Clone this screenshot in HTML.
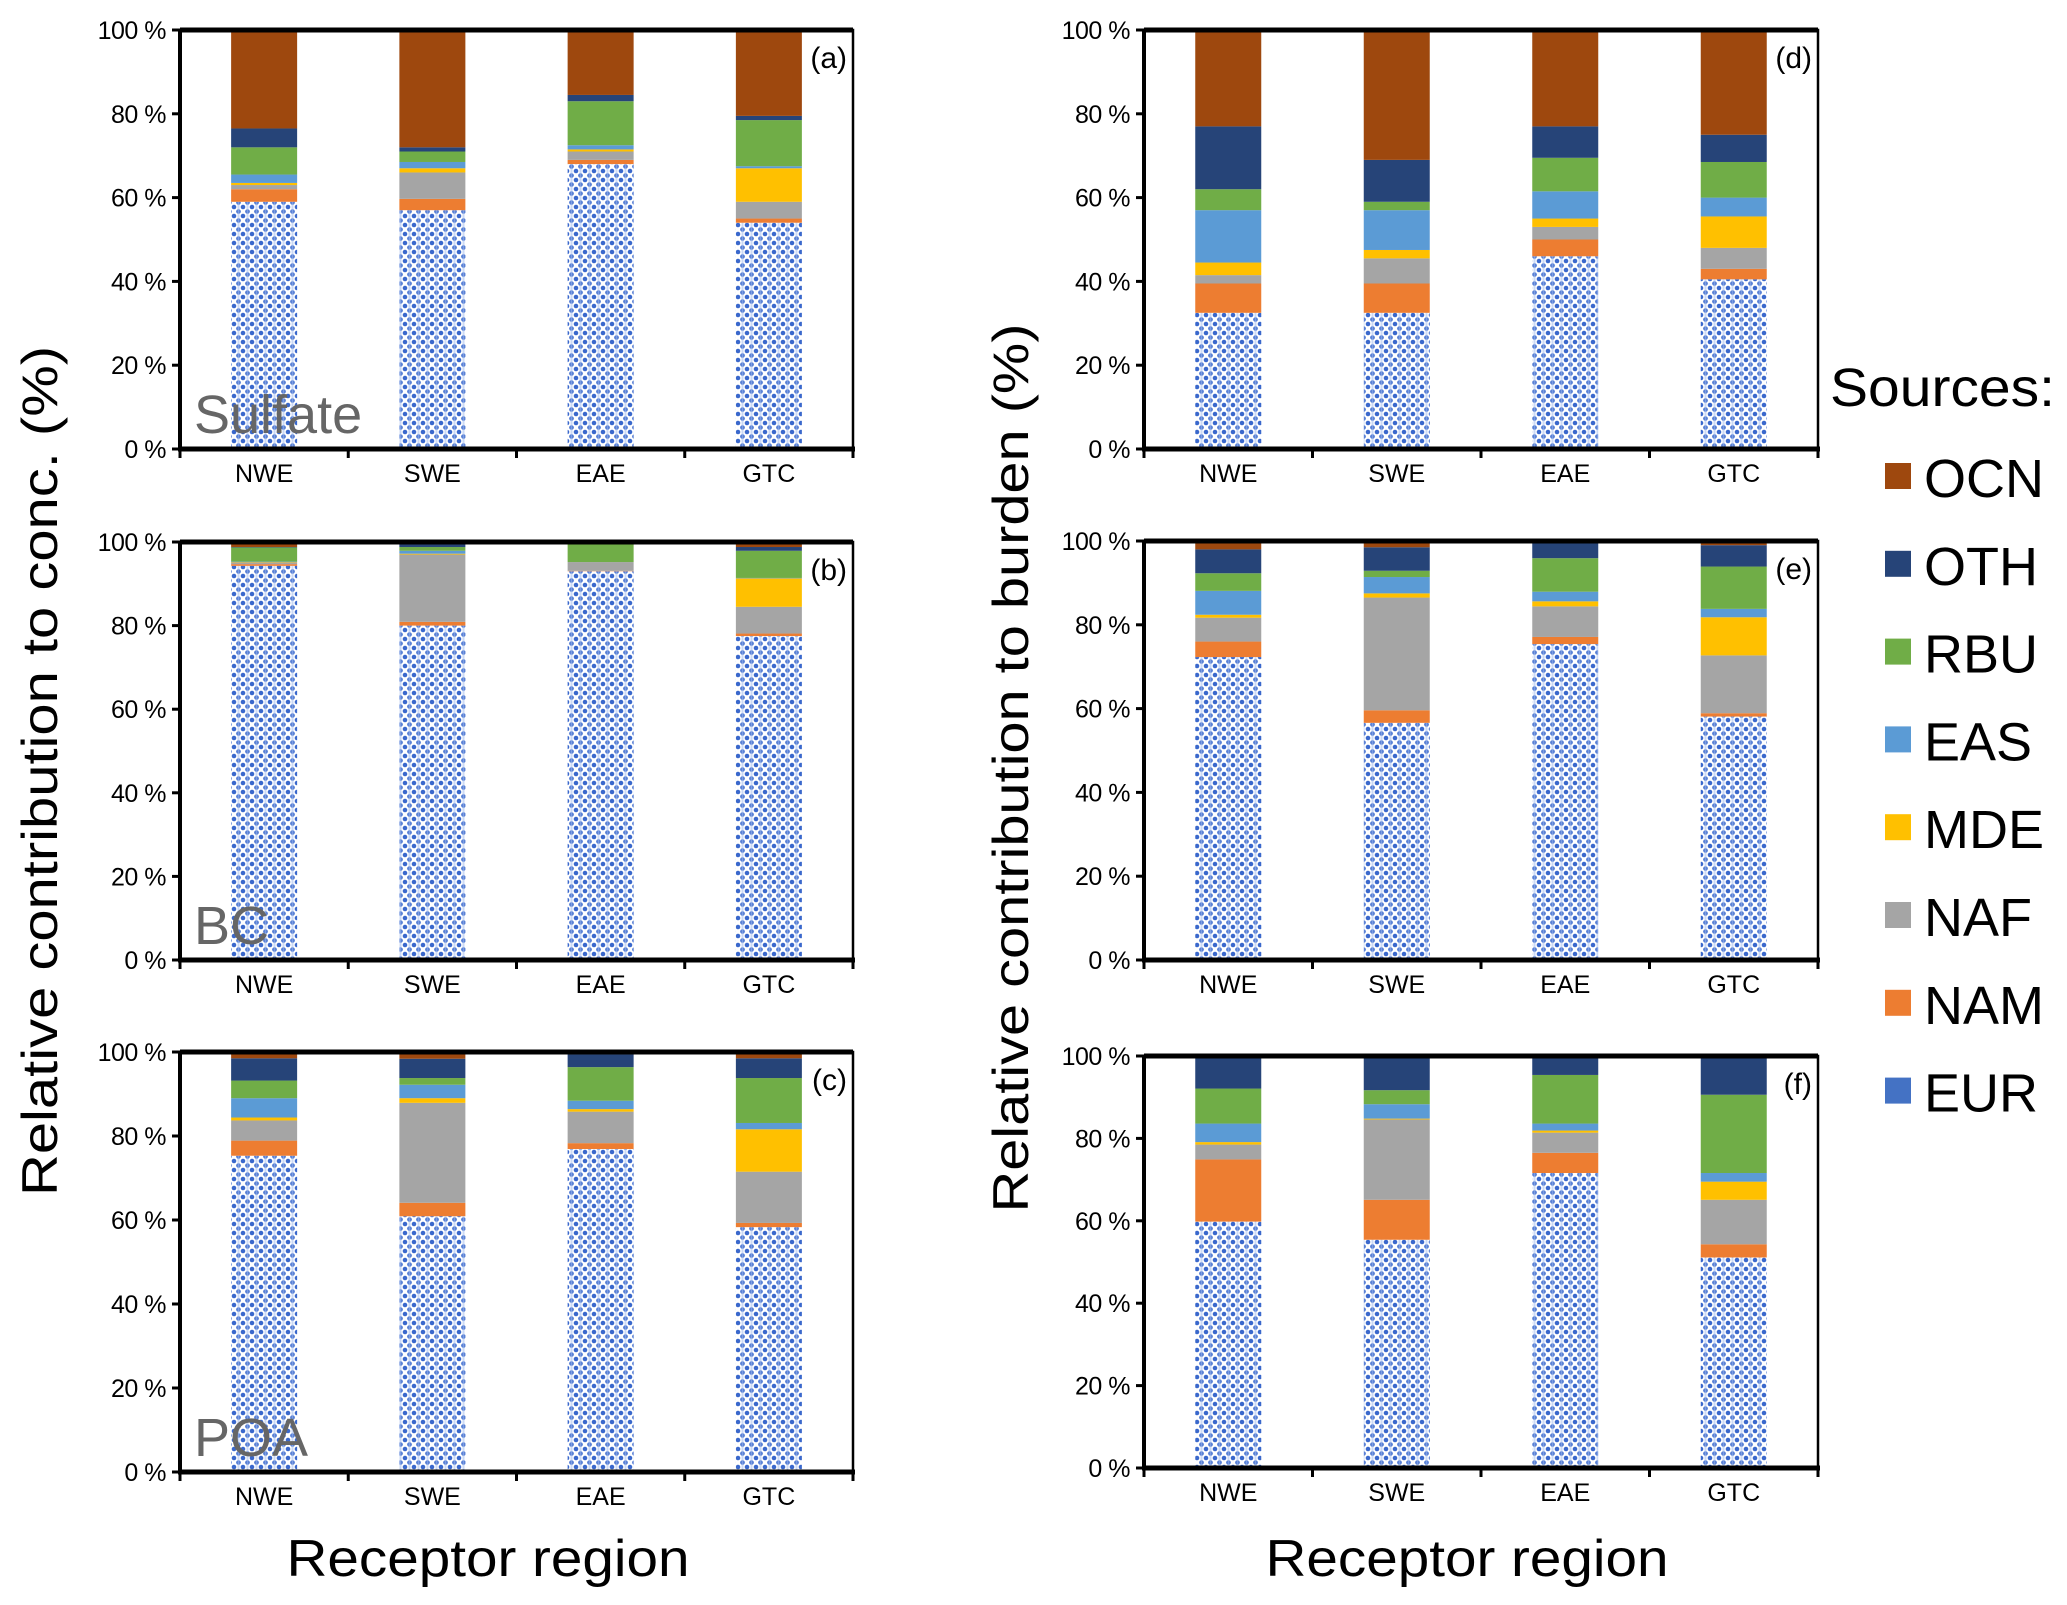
<!DOCTYPE html>
<html><head><meta charset="utf-8">
<style>
html,body{margin:0;padding:0;background:#fff;}
svg{display:block;font-family:"Liberation Sans",Arial,sans-serif;}
</style></head>
<body>
<svg id="fig" width="2067" height="1605" viewBox="0 0 2067 1605" xmlns="http://www.w3.org/2000/svg">
<defs>
<pattern id="eurpat" width="9" height="9" patternUnits="userSpaceOnUse">
<rect width="9" height="9" fill="#ffffff"/>
<circle cx="0" cy="0" r="2.3" fill="#3a68cc"/>
<circle cx="9" cy="0" r="2.3" fill="#3a68cc"/>
<circle cx="0" cy="9" r="2.3" fill="#3a68cc"/>
<circle cx="9" cy="9" r="2.3" fill="#3a68cc"/>
<circle cx="4.5" cy="4.5" r="2.3" fill="#3a68cc"/>
<rect x="3.5" y="0" width="2" height="9" fill="#a9c0ee" opacity="0.6"/>
</pattern>
</defs>
<g id="panels"></g>
<text x="40" y="771" font-size="50" text-anchor="middle" textLength="850" lengthAdjust="spacingAndGlyphs" transform="rotate(-90 40 771)" dy="17" fill="#000">Relative contribution to conc. (%)</text>
<text x="1011" y="768" font-size="50" text-anchor="middle" textLength="889" lengthAdjust="spacingAndGlyphs" transform="rotate(-90 1011 768)" dy="17" fill="#000">Relative contribution to burden (%)</text>
<text x="488" y="1576" font-size="52" text-anchor="middle" textLength="403" lengthAdjust="spacingAndGlyphs">Receptor region</text>
<text x="1467" y="1576" font-size="52" text-anchor="middle" textLength="403" lengthAdjust="spacingAndGlyphs">Receptor region</text>
<g id="legend">
<text x="1830" y="406" font-size="54" textLength="225" lengthAdjust="spacingAndGlyphs">Sources:</text>
</g>
</svg>
<script>
const categories = ["NWE", "SWE", "EAE", "GTC"];
const sources = ["EUR", "NAM", "NAF", "MDE", "EAS", "RBU", "OTH", "OCN"];
const colors = ["url(#eurpat)", "#ED7D31", "#A5A5A5", "#FFC000", "#5B9BD5", "#70AD47", "#264478", "#9E480E"];
const legendColors = ["#4472C4", "#ED7D31", "#A5A5A5", "#FFC000", "#5B9BD5", "#70AD47", "#264478", "#9E480E"];
const yTicks = [0, 20, 40, 60, 80, 100];
const yTickLabels = ["0 %", "20 %", "40 %", "60 %", "80 %", "100 %"];
// cumulative tops (%) per source (rows EUR..OCN), per category (NWE,SWE,EAE,GTC)
const topsA = [[59,57,68,54],[62,59.7,69,55],[63,66,71,59],[63.5,67,71.5,67],[65.5,68.5,72.5,67.5],[72,71,83,78.5],[76.5,72,84.5,79.5],[100,100,100,100]];
const topsB = [[94.3,80,93,77.5],[94.7,80.9,93.1,78.1],[95.1,97,95.2,84.5],[95.2,97.2,95.2,91.3],[95.3,97.9,95.2,91.4],[98.7,98.8,99.4,97.9],[98.8,99.4,99.4,98.8],[100,100,100,100]];
const topsC = [[75.3,60.9,76.9,58.3],[78.9,64.1,78.3,59.3],[83.7,87.9,85.8,71.5],[84.4,89,86.4,81.6],[89,92.2,88.4,83.1],[93.2,93.8,96.4,93.8],[98.5,98.4,99.4,98.5],[100,100,100,100]];
const topsD = [[32.5,32.5,46,40.5],[39.5,39.5,50,43],[41.5,45.5,53,48],[44.5,47.5,55,55.5],[57,57,61.5,60],[62,59,69.5,68.5],[77,69,77,75],[100,100,100,100]];
const topsE = [[72.3,56.6,75.4,58.1],[76,59.6,77.1,58.9],[81.7,86.5,84.4,72.7],[82.4,87.5,85.6,81.8],[88.1,91.4,87.9,83.8],[92.3,92.9,95.9,93.9],[98,98.5,99.6,99],[100,100,100,100]];
const topsF = [[59.8,55.4,71.6,51.1],[74.9,65.1,76.5,54.3],[78.5,84.6,81.4,65.1],[79.1,84.8,81.9,69.5],[83.6,88.3,83.6,71.6],[92.1,91.7,95.4,90.6],[99.7,99.7,99.7,99.7],[100,100,100,100]];

const NS = "http://www.w3.org/2000/svg";
function mk(tag, attrs, parent) {
  const el = document.createElementNS(NS, tag);
  for (const k in attrs) el.setAttribute(k, attrs[k]);
  parent.appendChild(el);
  return el;
}
const panelsG = document.getElementById("panels");
const panelDefs = [
  {id:"a", tops:topsA, x0:180, x1:853, y0:30, y1:449, name:"Sulfate", ny:433},
  {id:"b", tops:topsB, x0:180, x1:853, y0:542, y1:960, name:"BC", ny:944},
  {id:"c", tops:topsC, x0:180, x1:853, y0:1052, y1:1472, name:"POA", ny:1456},
  {id:"d", tops:topsD, x0:1144, x1:1818, y0:30, y1:449, name:"", ny:0},
  {id:"e", tops:topsE, x0:1144, x1:1818, y0:541, y1:960, name:"", ny:0},
  {id:"f", tops:topsF, x0:1144, x1:1818, y0:1056, y1:1468, name:"", ny:0}
];
panelDefs.forEach(p => {
  const g = mk("g", {}, panelsG);
  
  
  const W = p.x1 - p.x0;
  const bw = 66;
  const yScale = v => p.y1 - (v / 100) * (p.y1 - p.y0);
  const xCenter = i => p.x0 + (i + 0.5) * W / categories.length;
  categories.forEach((cat, i) => {
    let prev = 0;
    sources.forEach((s, k) => {
      const top = p.tops[k][i];
      const ya = yScale(top), yb = yScale(prev);
      if (yb - ya > 0.01) {
        const r = mk("rect", {x: xCenter(i) - bw/2, y: ya, width: bw, height: yb - ya, fill: colors[k]}, g);
        
        
      }
      prev = top;
    });
  });
  if (p.name) {
    const t = mk("text", {x: p.x0 + 14, y: p.ny, "font-size": 54, fill: "#666666"}, g);
    t.textContent = p.name;
    
    
  }
  const fr = mk("rect", {x: p.x0, y: p.y0, width: W, height: p.y1 - p.y0, fill: "none", stroke: "#000", "stroke-width": 2.5}, g);
  
  
  const topL = mk("line", {x1: p.x0, x2: p.x1, y1: p.y0, y2: p.y0, stroke: "#000", "stroke-width": 5}, g);
  
  
  const xa = mk("line", {x1: p.x0 - 2, x2: p.x1 + 2, y1: p.y1, y2: p.y1, stroke: "#000", "stroke-width": 5}, g);
  
  
  const ya = mk("line", {x1: p.x0, x2: p.x0, y1: p.y0, y2: p.y1, stroke: "#000", "stroke-width": 4}, g);
  
  
  yTicks.forEach((v, j) => {
    const yy = yScale(v);
    const tl = mk("line", {x1: p.x0 - 8, x2: p.x0, y1: yy, y2: yy, stroke: "#000", "stroke-width": 3}, g);
    
    
    const tt = mk("text", {x: p.x0 - 14, y: yy + 9, "font-size": 25, "text-anchor": "end", "letter-spacing": "-0.5"}, g);
    tt.textContent = yTickLabels[j];
    
    
  });
  for (let i = 0; i <= categories.length; i++) {
    const xx = p.x0 + i * W / categories.length;
    const tl = mk("line", {x1: xx, x2: xx, y1: p.y1, y2: p.y1 + 9, stroke: "#000", "stroke-width": 3}, g);
    
    
  }
  categories.forEach((cat, i) => {
    const t = mk("text", {x: xCenter(i), y: p.y1 + 33, "font-size": 25, "text-anchor": "middle"}, g);
    t.textContent = cat;
    
    
  });
  const pl = mk("text", {x: p.x1 - 6, y: p.y0 + 38, "font-size": 30, "text-anchor": "end"}, g);
  pl.textContent = "(" + p.id + ")";
  
  
});
const lg = document.getElementById("legend");
for (let k = sources.length - 1, n = 0; k >= 0; k--, n++) {
  const yb = 497 + n * 87.8;
  const sw = mk("rect", {x: 1885, y: yb - 34, width: 26, height: 26, fill: legendColors[k]}, lg);
  
  
  const t = mk("text", {x: 1924, y: yb, "font-size": 54}, lg);
  t.textContent = sources[k];
  
  
}
</script>
</body></html>
